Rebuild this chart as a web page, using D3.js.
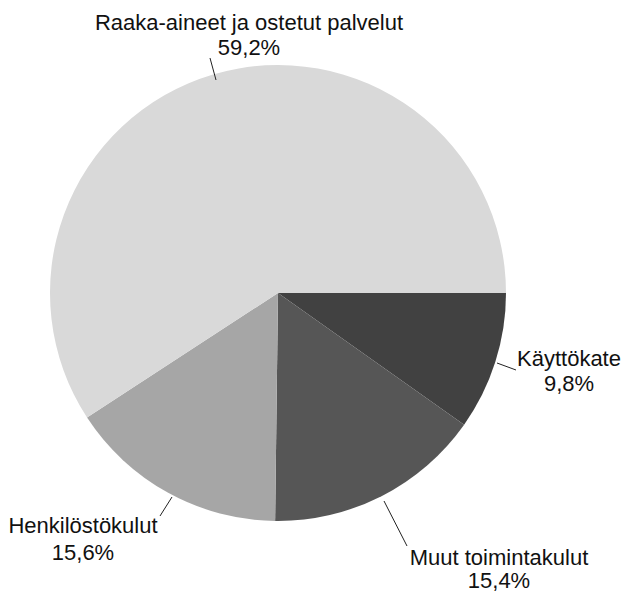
<!DOCTYPE html>
<html>
<head>
<meta charset="utf-8">
<script src="https://cdn.jsdelivr.net/npm/d3@7"></script>
<style>
  html, body { margin: 0; padding: 0; background: #fff; }
  svg { display: block; }
  text { font-family: "Liberation Sans", Arial, sans-serif; fill: #111; }
</style>
</head>
<body>
<svg id="chart" width="624" height="594"></svg>
<script>
// Data
const categories = ["Käyttökate", "Muut toimintakulut", "Henkilöstökulut", "Raaka-aineet ja ostetut palvelut"];
const values = [9.8, 15.4, 15.6, 59.2];
const valueLabels = ["9,8%", "15,4%", "15,6%", "59,2%"];
const colors = ["#414141", "#565656", "#a6a6a6", "#d9d9d9"];

// Label layout (positions of text and leader ends)
const labelPos = [
  { x: 569, y1: 366, y2: 391, lx1: 497, ly1: 363, lx2: 516, ly2: 370 },
  { x: 499, y1: 565, y2: 588, lx1: 384, ly1: 501, lx2: 407, ly2: 546 },
  { x: 83,  y1: 533, y2: 560, lx1: 172, ly1: 497, lx2: 160, ly2: 516 },
  { x: 249, y1: 30,  y2: 55,  lx1: 216, ly1: 80,  lx2: 210, ly2: 58 }
];

const cx = 278, cy = 293, r = 228;
const svg = d3.select("#chart");
const g = svg.append("g").attr("transform", `translate(${cx},${cy})`);

const pie = d3.pie().sort(null).value(d => d)
  .startAngle(Math.PI / 2).endAngle(Math.PI / 2 + 2 * Math.PI);
const arc = d3.arc().innerRadius(0).outerRadius(r);

g.selectAll("path.slice")
  .data(pie(values))
  .join("path")
  .attr("class", "slice")
  .attr("d", arc)
  .attr("fill", (d, i) => colors[i]);

// Leader lines
svg.selectAll("line.leader")
  .data(labelPos)
  .join("line")
  .attr("class", "leader")
  .attr("x1", d => d.lx1).attr("y1", d => d.ly1)
  .attr("x2", d => d.lx2).attr("y2", d => d.ly2)
  .attr("stroke", "#222").attr("stroke-width", 1);

// Labels
const lbl = svg.selectAll("g.label")
  .data(categories)
  .join("g")
  .attr("class", "label");
lbl.append("text")
  .attr("x", (d, i) => labelPos[i].x)
  .attr("y", (d, i) => labelPos[i].y1)
  .attr("text-anchor", "middle")
  .attr("font-size", 22)
  .text(d => d);
lbl.append("text")
  .attr("x", (d, i) => labelPos[i].x)
  .attr("y", (d, i) => labelPos[i].y2)
  .attr("text-anchor", "middle")
  .attr("font-size", 22)
  .text((d, i) => valueLabels[i]);
</script>
</body>
</html>
